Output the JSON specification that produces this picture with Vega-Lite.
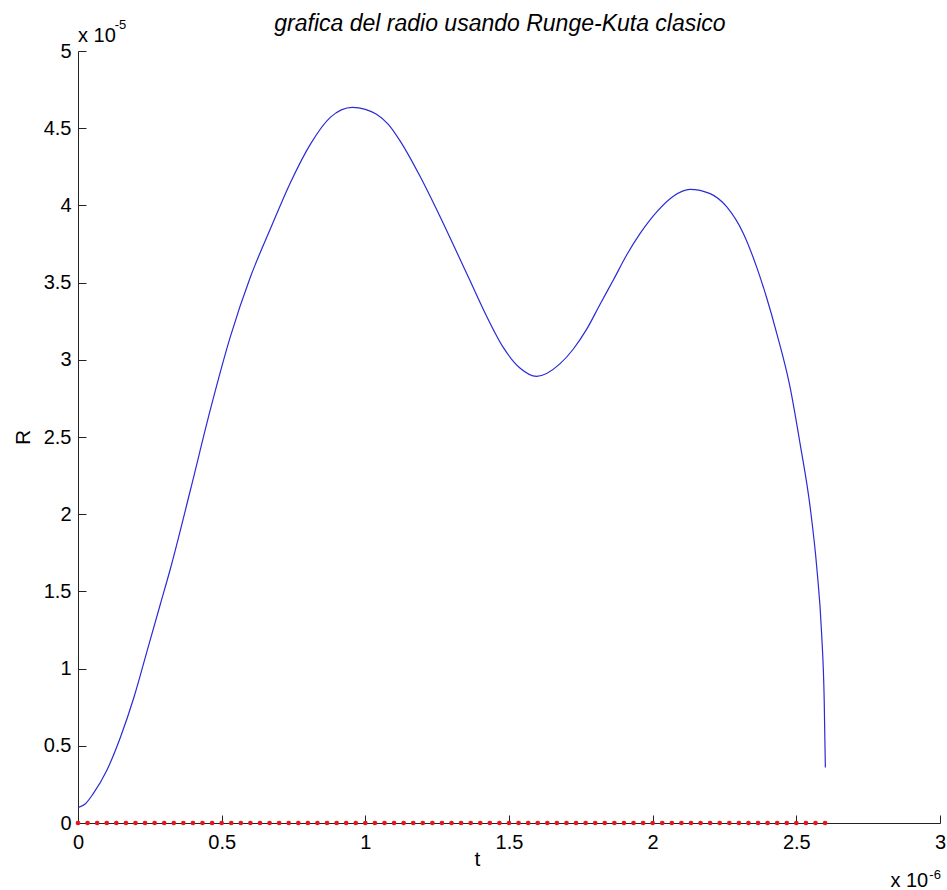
{
  "$schema": "https://vega.github.io/schema/vega-lite/v6.json",
  "autosize": "none",
  "width": 862,
  "height": 772,
  "padding": {"left": 78, "top": 51, "right": 7, "bottom": 67},
  "background": "white",
  "config": {
    "view": {"stroke": null},
    "font": "Liberation Sans",
    "axis": {"grid": false, "domainColor": "#222", "tickColor": "#222", "labelColor": "#000", "labelFont": "Liberation Sans", "labelFontSize": 20, "titleFont": "Liberation Sans", "titleFontSize": 21, "titleFontWeight": "normal", "titleColor": "#000", "tickSize": -8, "domainWidth": 1, "tickWidth": 1, "labelFlush": false}
  },
  "title": {"text": "grafica del radio usando Runge-Kuta clasico", "font": "Liberation Sans", "fontSize": 23, "fontStyle": "italic", "fontWeight": "normal", "color": "#000", "anchor": "middle", "baseline": "alphabetic", "offset": 0, "dy": 35, "dx": -9},
  "datasets": {
    "curve": [
      {"t": 0, "R": 0.10},
      {"t": 0.026, "R": 0.125},
      {"t": 0.053, "R": 0.19},
      {"t": 0.10, "R": 0.34},
      {"t": 0.148, "R": 0.557},
      {"t": 0.195, "R": 0.816},
      {"t": 0.241, "R": 1.118},
      {"t": 0.287, "R": 1.42},
      {"t": 0.322, "R": 1.65},
      {"t": 0.391, "R": 2.155},
      {"t": 0.461, "R": 2.68},
      {"t": 0.53, "R": 3.148},
      {"t": 0.60, "R": 3.536},
      {"t": 0.67, "R": 3.85},
      {"t": 0.74, "R": 4.15},
      {"t": 0.81, "R": 4.40},
      {"t": 0.878, "R": 4.57},
      {"t": 0.955, "R": 4.635},
      {"t": 1.0, "R": 4.622},
      {"t": 1.039, "R": 4.59},
      {"t": 1.08, "R": 4.525},
      {"t": 1.122, "R": 4.415},
      {"t": 1.19, "R": 4.19},
      {"t": 1.249, "R": 3.97},
      {"t": 1.305, "R": 3.75},
      {"t": 1.365, "R": 3.51},
      {"t": 1.42, "R": 3.29},
      {"t": 1.48, "R": 3.08},
      {"t": 1.539, "R": 2.945},
      {"t": 1.596, "R": 2.893},
      {"t": 1.678, "R": 2.975},
      {"t": 1.724, "R": 3.07},
      {"t": 1.771, "R": 3.20},
      {"t": 1.817, "R": 3.36},
      {"t": 1.864, "R": 3.52},
      {"t": 1.910, "R": 3.68},
      {"t": 1.957, "R": 3.82},
      {"t": 2.015, "R": 3.96},
      {"t": 2.072, "R": 4.06},
      {"t": 2.13, "R": 4.104},
      {"t": 2.2, "R": 4.076},
      {"t": 2.258, "R": 3.99},
      {"t": 2.316, "R": 3.817},
      {"t": 2.362, "R": 3.60},
      {"t": 2.397, "R": 3.40},
      {"t": 2.432, "R": 3.17},
      {"t": 2.478, "R": 2.824},
      {"t": 2.513, "R": 2.457},
      {"t": 2.548, "R": 2.047},
      {"t": 2.571, "R": 1.658},
      {"t": 2.588, "R": 1.227},
      {"t": 2.597, "R": 0.795},
      {"t": 2.601, "R": 0.36}
    ],
    "steps": [
      {"t": 0, "R": 0}, {"t": 0.0333, "R": 0}, {"t": 0.0667, "R": 0}, {"t": 0.1, "R": 0}, {"t": 0.1333, "R": 0}, {"t": 0.1667, "R": 0}, {"t": 0.2, "R": 0}, {"t": 0.2333, "R": 0}, {"t": 0.2667, "R": 0}, {"t": 0.3, "R": 0},
      {"t": 0.3333, "R": 0}, {"t": 0.3667, "R": 0}, {"t": 0.4, "R": 0}, {"t": 0.4333, "R": 0}, {"t": 0.4667, "R": 0}, {"t": 0.5, "R": 0}, {"t": 0.5333, "R": 0}, {"t": 0.5667, "R": 0}, {"t": 0.6, "R": 0}, {"t": 0.6333, "R": 0},
      {"t": 0.6667, "R": 0}, {"t": 0.7, "R": 0}, {"t": 0.7333, "R": 0}, {"t": 0.7667, "R": 0}, {"t": 0.8, "R": 0}, {"t": 0.8333, "R": 0}, {"t": 0.8667, "R": 0}, {"t": 0.9, "R": 0}, {"t": 0.9333, "R": 0}, {"t": 0.9667, "R": 0},
      {"t": 1.0, "R": 0}, {"t": 1.0333, "R": 0}, {"t": 1.0667, "R": 0}, {"t": 1.1, "R": 0}, {"t": 1.1333, "R": 0}, {"t": 1.1667, "R": 0}, {"t": 1.2, "R": 0}, {"t": 1.2333, "R": 0}, {"t": 1.2667, "R": 0}, {"t": 1.3, "R": 0},
      {"t": 1.3333, "R": 0}, {"t": 1.3667, "R": 0}, {"t": 1.4, "R": 0}, {"t": 1.4333, "R": 0}, {"t": 1.4667, "R": 0}, {"t": 1.5, "R": 0}, {"t": 1.5333, "R": 0}, {"t": 1.5667, "R": 0}, {"t": 1.6, "R": 0}, {"t": 1.6333, "R": 0},
      {"t": 1.6667, "R": 0}, {"t": 1.7, "R": 0}, {"t": 1.7333, "R": 0}, {"t": 1.7667, "R": 0}, {"t": 1.8, "R": 0}, {"t": 1.8333, "R": 0}, {"t": 1.8667, "R": 0}, {"t": 1.9, "R": 0}, {"t": 1.9333, "R": 0}, {"t": 1.9667, "R": 0},
      {"t": 2.0, "R": 0}, {"t": 2.0333, "R": 0}, {"t": 2.0667, "R": 0}, {"t": 2.1, "R": 0}, {"t": 2.1333, "R": 0}, {"t": 2.1667, "R": 0}, {"t": 2.2, "R": 0}, {"t": 2.2333, "R": 0}, {"t": 2.2667, "R": 0}, {"t": 2.3, "R": 0},
      {"t": 2.3333, "R": 0}, {"t": 2.3667, "R": 0}, {"t": 2.4, "R": 0}, {"t": 2.4333, "R": 0}, {"t": 2.4667, "R": 0}, {"t": 2.5, "R": 0}, {"t": 2.5333, "R": 0}, {"t": 2.5667, "R": 0}, {"t": 2.6, "R": 0}
    ]
  },
  "layer": [
    {
      "data": {"name": "curve"},
      "mark": {"type": "line", "color": "#2a2ad6", "strokeWidth": 1.2, "clip": false, "interpolate": "monotone"},
      "encoding": {
        "x": {"field": "t", "type": "quantitative", "sort": null,
              "scale": {"domain": [0, 3], "nice": false, "zero": false},
              "axis": {"values": [0, 0.5, 1, 1.5, 2, 2.5, 3], "format": "~g", "title": "t", "labelPadding": 17, "labelFlush": false, "titleX": 399, "titleY": 42, "titleBaseline": "alphabetic", "titleAlign": "center", "titleAngle": 0}},
        "y": {"field": "R", "type": "quantitative",
              "scale": {"domain": [0, 5], "nice": false, "zero": false},
              "axis": {"values": [0, 0.5, 1, 1.5, 2, 2.5, 3, 3.5, 4, 4.5, 5], "format": "~g", "title": "R", "labelPadding": 15, "labelFlush": false, "titleX": -49, "titleY": 386, "titleAngle": -90, "titleAlign": "center", "titleBaseline": "alphabetic"}},
        "order": {"field": "t", "type": "quantitative"}
      }
    },
    {
      "data": {"name": "steps"},
      "mark": {"type": "point", "shape": "circle", "filled": true, "color": "#e8141b", "size": 22, "opacity": 1},
      "encoding": {
        "x": {"field": "t", "type": "quantitative"},
        "y": {"field": "R", "type": "quantitative"}
      }
    },
    {
      "data": {"values": [{"txt": "x 10"}]},
      "mark": {"type": "text", "align": "right", "baseline": "alphabetic", "fontSize": 20, "font": "Liberation Sans", "color": "#000"},
      "encoding": {"x": {"datum": 2.959}, "y": {"datum": -0.416}, "text": {"field": "txt"}}
    },
    {
      "data": {"values": [{"txt": "-6"}]},
      "mark": {"type": "text", "align": "left", "baseline": "alphabetic", "fontSize": 13, "font": "Liberation Sans", "color": "#000"},
      "encoding": {"x": {"datum": 2.963}, "y": {"datum": -0.365}, "text": {"field": "txt"}}
    },
    {
      "data": {"values": [{"txt": "x 10"}]},
      "mark": {"type": "text", "align": "left", "baseline": "alphabetic", "fontSize": 20, "font": "Liberation Sans", "color": "#000"},
      "encoding": {"x": {"datum": 0.0}, "y": {"datum": 5.056}, "text": {"field": "txt"}}
    },
    {
      "data": {"values": [{"txt": "-5"}]},
      "mark": {"type": "text", "align": "left", "baseline": "alphabetic", "fontSize": 13, "font": "Liberation Sans", "color": "#000"},
      "encoding": {"x": {"datum": 0.128}, "y": {"datum": 5.14}, "text": {"field": "txt"}}
    }
  ]
}
